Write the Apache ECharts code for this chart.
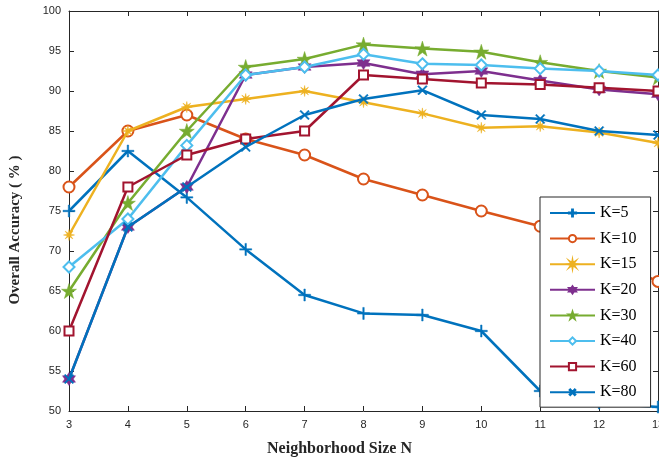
<!DOCTYPE html>
<html><head><meta charset="utf-8">
<script src="https://cdn.jsdelivr.net/npm/echarts@6/dist/echarts.min.js"></script>
<style>html,body{margin:0;padding:0;background:#fff}#c{width:659px;height:460px}</style>
</head><body><div id="c"></div>
<script>
var neighborhood = [3,4,5,6,7,8,9,10,11,12,13];
var seriesNames = ['K=5','K=10','K=15','K=20','K=30','K=40','K=60','K=80'];
var k5  = [75,82.5,76.7,70.2,64.5,62.2,62,60,52.5,51,50.5];
var k10 = [78,85,87,84,82,79,77,75,73.1,69.5,66.2];
var k15 = [72,85,88,89,90,88.6,87.2,85.4,85.6,84.8,83.5];
var k20 = [54,73,78,92,93,93.5,92.1,92.5,91.3,90.2,89.6];
var k30 = [65,76,85,93,94,95.8,95.3,94.9,93.6,92.5,91.7];
var k40 = [68,74,83.2,92,93,94.6,93.4,93.25,92.8,92.5,92];
var k60 = [60,78,82,84,85,92,91.5,91,90.8,90.4,90];
var k80 = [54,73,78,83,87,89,90.1,87,86.5,85,84.5];
var yTicks = [50,55,60,65,70,75,80,85,90,95,100];

function star(n, ro, ri){
  var pts=[];
  for(var i=0;i<2*n;i++){
    var r = i%2===0?ro:ri;
    var a = -Math.PI/2 + i*Math.PI/n;
    pts.push((10+r*Math.cos(a)).toFixed(3)+','+(10+r*Math.sin(a)).toFixed(3));
  }
  return 'path://M'+pts.join('L')+'Z';
}
var plusPath = 'path://M8.8,0H11.2V8.8H20V11.2H11.2V20H8.8V11.2H0V8.8H8.8Z';
var colors = ['#0072BD','#D95319','#EDB120','#7E2F8E','#77AC30','#4DBEEE','#A2142F','#0072BD'];
var symbols = [plusPath,'emptyCircle',star(8,10,3.2),star(6,10,5.77),star(5,10,3.82),'emptyDiamond','emptyRect',plusPath];
var sizes = [12,11,11,13,15,11,9,12];
var rots = [0,0,0,0,0,0,0,45];
var allData = [k5,k10,k15,k20,k30,k40,k60,k80];

var series = allData.map(function(d,i){
  return {
    name: seriesNames[i], type:'line',
    data: neighborhood.map(function(x,j){return [x,d[j]];}),
    symbol: symbols[i], symbolSize: sizes[i], symbolRotate: rots[i],
    showAllSymbol: true,
    lineStyle:{color:colors[i], width:2.5},
    itemStyle:{color:colors[i], borderColor:colors[i], borderWidth: (symbols[i].indexOf('empty')===0?2:0.5)},
    emphasis:{disabled:true}, animation:false, clip:false, z: 2+i
  };
});

var axisCommon = {
  axisLine:{show:true, lineStyle:{color:'#262626', width:1}},
  axisTick:{show:true, inside:true, length:5, lineStyle:{color:'#262626'}},
  splitLine:{show:false}
};
var chart = echarts.init(document.getElementById('c'), null, {renderer:'canvas'});
chart.setOption({
  backgroundColor:'#fff',
  animation:false,
  grid:{left:69, right:1, top:11, bottom:49, containLabel:false, outerBoundsMode:'none'},
  xAxis:[
    Object.assign({type:'value', min:3, max:13, interval:1, position:'bottom',
      name:'Neighborhood Size N', nameLocation:'middle', nameGap:30,
      nameTextStyle:{fontFamily:'Liberation Serif', fontWeight:'bold', fontSize:16, color:'#262626', padding:[0,48,0,0]},
      axisLabel:{fontFamily:'Liberation Sans', fontSize:11, color:'#262626', margin:8}}, axisCommon),
    Object.assign({type:'value', min:3, max:13, interval:1, position:'top', axisLabel:{show:false}}, axisCommon)
  ],
  yAxis:[
    Object.assign({type:'value', min:50, max:100, interval:5, position:'left',
      name:'Overall Accuracy ( % )', nameLocation:'middle', nameGap:46,
      nameTextStyle:{fontFamily:'Liberation Serif', fontWeight:'bold', fontSize:15, color:'#262626', padding:[0,38,0,0]},
      axisLabel:{fontFamily:'Liberation Sans', fontSize:11, color:'#262626', margin:8,
        formatter:function(v){return yTicks.indexOf(v)>=0?String(v):'';}}}, axisCommon),
    Object.assign({type:'value', min:50, max:100, interval:5, position:'right', axisLabel:{show:false}}, axisCommon)
  ],
  legend:{
    data: seriesNames, orient:'vertical', left:540, top:197, width:112,
    backgroundColor:'#fff', borderColor:'#262626', borderWidth:1,
    padding:[8,14,7,9], itemWidth:45, itemHeight:9, itemGap:9.6,
    textStyle:{fontFamily:'Liberation Serif', fontSize:16, color:'#000'},
    selectedMode:false, z:20
  },
  series: series
});
</script></body></html>
